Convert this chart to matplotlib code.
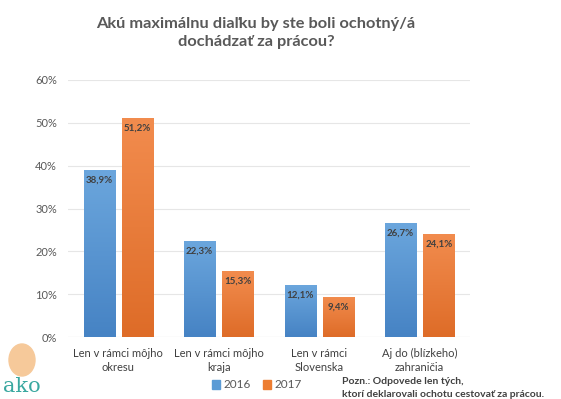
import matplotlib
matplotlib.use("Agg")
import matplotlib.pyplot as plt
import numpy as np
from matplotlib.colors import LinearSegmentedColormap
from matplotlib.patches import Ellipse, Rectangle

categories = ["Len v rámci môjho\nokresu", "Len v rámci môjho\nkraja",
              "Len v rámci\nSlovenska", "Aj do (blízkeho)\nzahraničia"]
series_names = ["2016", "2017"]
values_2016 = [38.9, 22.3, 12.1, 26.7]
values_2017 = [51.2, 15.3, 9.4, 24.1]
yticks = [0, 10, 20, 30, 40, 50, 60]

plt.rcParams['font.family'] = ['Lato', 'DejaVu Sans']
grey = "#595959"

fig = plt.figure(figsize=(5.61, 3.99), dpi=100)
ax = fig.add_axes([68/561, 1-337/399, (470-68)/561, (337-80)/399])

x = np.arange(len(categories))
w = 0.31
gap = 0.07
offs = [-(w+gap)/2, (w+gap)/2]
grads = [("#6BA6DD", "#4683C4"), ("#F28C4E", "#DE6C28")]
base_cols = ["#5B9BD5", "#ED7D31"]
for si, vals in enumerate([values_2016, values_2017]):
    bars = ax.bar(x + offs[si], vals, width=w, color=base_cols[si], zorder=2,
                  label=series_names[si])
    cmap = LinearSegmentedColormap.from_list("g", [grads[si][1], grads[si][0]])
    for b, v in zip(bars, vals):
        x0 = b.get_x()
        im = ax.imshow(np.linspace(0, 1, 100).reshape(-1, 1), cmap=cmap,
                       extent=[x0, x0 + w, 0, v], origin="lower",
                       aspect="auto", zorder=3)
        im.set_clip_path(b)
        ax.text(x0 + w/2, v - 1.3, f"{v:.1f}%".replace(".", ","), ha="center",
                va="top", fontsize=7, color="#404040", fontweight="bold", zorder=4)

ax.set_xlim(-0.5, 3.5)
ax.set_ylim(0, 60)
ax.set_aspect("auto")
ax.set_yticks(yticks)
ax.set_yticklabels([f"{t}%" for t in yticks], fontsize=8, color=grey)
ax.set_xticks(x)
ax.set_xticklabels(categories, fontsize=8, color="#404040", linespacing=1.3)
ax.tick_params(length=0, pad=8)
ax.tick_params(axis="x", pad=8)
ax.grid(axis="y", color="#E6E6E6", lw=0.8, zorder=0)
ax.set_axisbelow(True)
for s in ax.spines.values():
    s.set_visible(False)
ax.axhline(0, color="#D9D9D9", lw=0.8, zorder=1)

fig.text(256/561, 1-33/399, "Akú maximálnu diaľku by ste boli ochotný/á\ndochádzať za prácou?",
         ha="center", va="center", fontsize=11.8, fontweight="bold", color=grey,
         linespacing=1.4)

# legend
handles = [Rectangle((0, 0), 1, 1, color=c) for c in base_cols]
leg = fig.legend(handles, series_names, loc="center", bbox_to_anchor=(257/561, 1-385/399),
                 ncol=2, frameon=False, fontsize=8.5, handlelength=0.7, handleheight=0.7,
                 handletextpad=0.3, columnspacing=1.0)
for t in leg.get_texts():
    t.set_color(grey)

fig.text(342/561, 1-388/399, "Pozn.: Odpovede len tých,\nktorí deklarovali ochotu cestovať za prácou.",
         ha="left", va="center", fontsize=7.5, fontweight="bold", color="#404040",
         linespacing=1.6)

# logo
fig.patches.append(Ellipse((22/561, 1-360/399), 26/561, 32/399, transform=fig.transFigure,
                           color="#F6C99A", zorder=0))
fig.text(22/561, 1-387/399, "ako", ha="center", va="center", fontsize=15,
         color="#3AA8A0", family=["DejaVu Serif"])

fig.savefig("out.png", dpi=100)
